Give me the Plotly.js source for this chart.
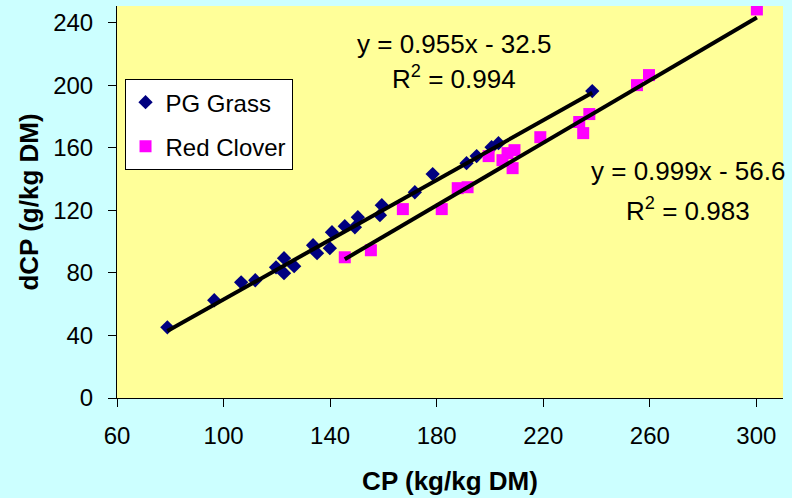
<!DOCTYPE html>
<html>
<head>
<meta charset="utf-8">
<script src="https://cdn.plot.ly/plotly-3.0.1.min.js"></script>
<style>
  html, body { margin: 0; padding: 0; background: #CCFFFF; }
  #chart { width: 792px; height: 498px; }
</style>
</head>
<body>
<div id="chart"></div>
<script>
// ---- Data ----
const grassCP  = [78.9, 96.5, 106.6, 111.9, 119.7, 122.7, 122.7, 126.5, 133.6, 135.1, 139.9, 140.7,
                  145.5, 149.3, 150.4, 158.7, 159.4, 171.8, 178.5, 191.2, 195.0, 200.6, 203.2, 238.4];
const grassDCP = [45.2, 62.5, 74.0, 75.3, 83.6, 89.4, 79.8, 84.3, 97.7, 92.6, 95.8, 106.0,
                  109.9, 109.2, 115.6, 116.9, 123.3, 131.6, 143.2, 150.2, 154.7, 160.4, 163.0, 196.3];

const cloverCP  = [145.5, 155.3, 167.3, 181.9, 187.9, 191.6, 199.5, 204.7, 206.6, 209.2, 208.5,
                   218.9, 233.5, 235.0, 237.3, 255.2, 259.7, 300.2];
const cloverDCP = [90.0, 94.5, 120.8, 120.8, 134.2, 134.8, 154.7, 152.1, 156.6, 158.5, 147.0,
                   166.8, 176.5, 169.4, 181.6, 200.1, 206.5, 248.5];

const seriesNames = ["PG Grass", "Red Clover"];
const fitSlopes     = [0.955, 0.999];
const fitIntercepts = [-32.5, -56.6];
const fitR2         = [0.994, 0.983];

const xTicks = [60, 100, 140, 180, 220, 260, 300];
const yTicks = [0, 40, 80, 120, 160, 200, 240];

// ---- Build traces ----
function fitLine(xs, i) {
  const lo = Math.min(...xs), hi = Math.max(...xs);
  return {
    x: [lo, hi],
    y: [fitSlopes[i] * lo + fitIntercepts[i], fitSlopes[i] * hi + fitIntercepts[i]],
    type: 'scatter', mode: 'lines',
    line: { color: '#000000', width: 4 },
    showlegend: false, hoverinfo: 'skip'
  };
}

const traces = [
  {
    x: grassCP, y: grassDCP, name: seriesNames[0], legendgroup: 'g1',
    type: 'scatter', mode: 'markers',
    marker: { symbol: 'diamond', size: 11, color: '#000080' }
  },
  {
    x: cloverCP, y: cloverDCP, name: seriesNames[1], legendgroup: 'g2',
    type: 'scatter', mode: 'markers',
    marker: { symbol: 'square', size: 12, color: '#FF00FF' }
  },
  fitLine(grassCP, 0),
  fitLine(cloverCP, 1)
];

function eqText(i) {
  const b = Math.abs(fitIntercepts[i]).toFixed(1);
  const sign = fitIntercepts[i] < 0 ? '-' : '+';
  return 'y = ' + fitSlopes[i].toFixed(3) + 'x ' + sign + ' ' + b;
}

const font = 'Liberation Sans, Arial, sans-serif';

const layout = {
  width: 792, height: 498,
  paper_bgcolor: '#CCFFFF',
  plot_bgcolor: '#FFFF99',
  margin: { l: 116.5, r: 8.5, t: 6, b: 100.3 },
  font: { family: font, size: 24, color: '#000000' },
  showlegend: true,
  legend: {
    x: 0.0113, y: 0.8136, xanchor: 'left', yanchor: 'top',
    bgcolor: '#FFFFFF', bordercolor: '#000000', borderwidth: 1,
    font: { family: font, size: 24, color: '#000000' },
    traceorder: 'grouped', tracegroupgap: 10
  },
  xaxis: {
    range: [60, 310],
    tickvals: xTicks, ticktext: xTicks.map(String),
    showgrid: false, zeroline: false,
    showline: true, linecolor: '#000000', linewidth: 1,
    ticks: 'outside', ticklen: 8, tickcolor: '#000000',
    ticklabelstandoff: 8,
    tickfont: { family: font, size: 24 },
    title: { text: '<b>CP (kg/kg DM)</b>', font: { family: font, size: 26 }, standoff: 24 }
  },
  yaxis: {
    range: [0, 250.7],
    tickvals: yTicks, ticktext: yTicks.map(String),
    showgrid: false, zeroline: false,
    showline: true, linecolor: '#000000', linewidth: 1,
    ticks: 'outside', ticklen: 8, tickcolor: '#000000',
    ticklabelstandoff: 10,
    tickfont: { family: font, size: 24 },
    title: { text: '<b>dCP (g/kg DM)</b>', font: { family: font, size: 26 }, standoff: 7 }
  },
  annotations: [
    { x: 186.4, y: 226.4, xref: 'x', yref: 'y', text: eqText(0), showarrow: false,
      font: { family: font, size: 26 } },
    { x: 186.4, y: 205, xref: 'x', yref: 'y', text: 'R<sup>2</sup> = ' + fitR2[0].toFixed(3), showarrow: false,
      font: { family: font, size: 26 } },
    { x: 274.3, y: 145, xref: 'x', yref: 'y', text: eqText(1), showarrow: false,
      font: { family: font, size: 26 } },
    { x: 274.3, y: 120.6, xref: 'x', yref: 'y', text: 'R<sup>2</sup> = ' + fitR2[1].toFixed(3), showarrow: false,
      font: { family: font, size: 26 } }
  ]
};

Plotly.newPlot('chart', traces, layout, { displayModeBar: false, staticPlot: true });
</script>
</body>
</html>
